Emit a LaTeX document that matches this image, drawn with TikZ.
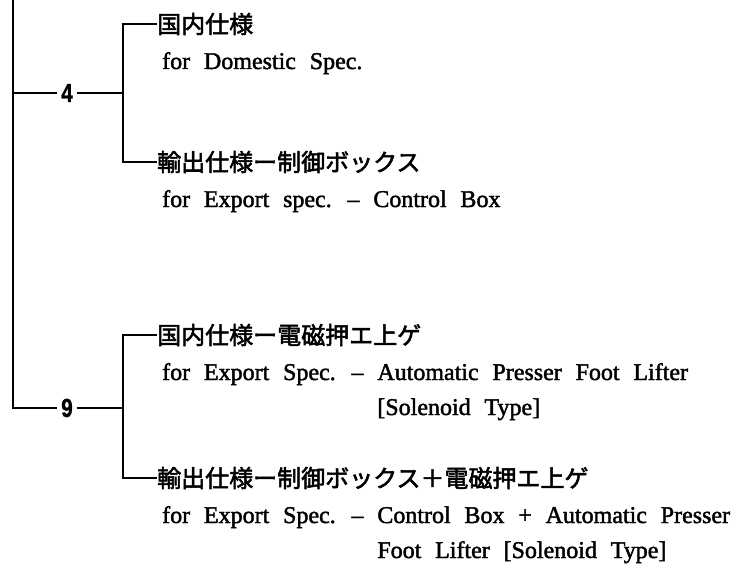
\documentclass[tikz,border=0pt]{standalone}
\usepackage{fontspec}
\setmainfont{Liberation Serif}[WordSpace=2.3,FakeBold=1.8]
\newfontfamily\jpfont{Noto Sans CJK JP}[FakeBold=2.2]
\newfontfamily\numfont{Liberation Sans}[FakeStretch=0.8,FakeBold=1]
\begin{document}
\begin{tikzpicture}[x=1pt,y=-1pt,
  link/.style={line width=1.7pt, line join=miter},
  num/.style={font=\numfont\bfseries\fontsize{26}{26}\selectfont, inner sep=4pt},
  jp/.style={font=\jpfont\fontsize{24}{24}\selectfont, inner sep=0pt, anchor=west},
  en/.style={font=\fontsize{24}{24}\selectfont, inner sep=0pt, anchor=base west}]
\useasboundingbox (0,0) rectangle (751,572);
% trunk
\coordinate (top) at (13,0);
\coordinate (m4) at (13,93);
\coordinate (m9) at (13,408);
\node[num] (n4) at (67,93) {4};
\node[num] (n9) at (67,408) {9};
\coordinate (b4) at (123,93);
\coordinate (b4t) at (123,24);
\coordinate (b4b) at (123,162);
\coordinate (b9) at (123,408);
\coordinate (b9t) at (123,335);
\coordinate (b9b) at (123,478);
% texts
\node[jp] (j4a) at (157,24) {国内仕様};
\node[en] (e4a) at (162,69) {for Domestic Spec.};
\node[jp] (j4b) at (157,162) {輸出仕様ー制御ボックス};
\node[en] (e4b) at (162,207) {for Export spec. – Control Box};
\node[jp] (j9a) at (157,335) {国内仕様ー電磁押エ上ゲ};
\node[en] (e9a) at (162,380) {for Export Spec. – Automatic Presser Foot Lifter};
\node[en] (e9a2) at (162,415) {\phantom{for Export Spec. – }[Solenoid Type]};
\node[jp] (j9b) at (157,478) {輸出仕様ー制御ボックス＋電磁押エ上ゲ};
\node[en] (e9b) at (162,523) {for Export Spec. – Control Box + Automatic Presser};
\node[en] (e9b2) at (162,558) {\phantom{for Export Spec. – }Foot Lifter [Solenoid Type]};
% connectors
\draw[link] (top) -- (m9) -- (n9);
\draw[link] (m4) -- (n4);
\draw[link] (n4) -- (b4);
\draw[link] (n9) -- (b9);
\draw[link] (j4a.west) -- (b4t) -- (b4b) -- (j4b.west);
\draw[link] (j9a.west) -- (b9t) -- (b9b) -- (j9b.west);
\end{tikzpicture}
\end{document}
